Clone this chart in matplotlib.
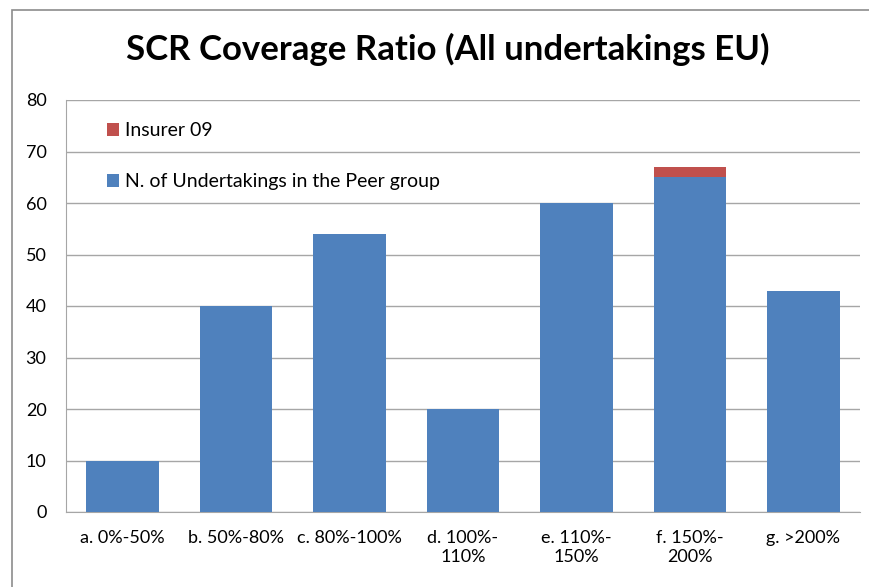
import matplotlib.pyplot as plt
from matplotlib.patches import Rectangle

categories = ['a. 0%-50%', 'b. 50%-80%', 'c. 80%-100%', 'd. 100%-\n110%',
              'e. 110%-\n150%', 'f. 150%-\n200%', 'g. >200%']
peer_group = [10, 40, 54, 20, 60, 65, 43]
insurer = [0, 0, 0, 0, 0, 2, 0]

plt.rcParams['font.family'] = ['Lato', 'DejaVu Sans']

fig = plt.figure(figsize=(8.7, 5.87), dpi=100)
ax = fig.add_axes([66 / 870, 1 - 512 / 587, (860 - 66) / 870, (512 - 100) / 587])

# outer chart frame (only left/top edges visible in the screenshot)
fig.patches.append(Rectangle((12 / 870, -0.1), 1.2, 1 - 10 / 587 + 0.1,
                             transform=fig.transFigure, fill=False,
                             edgecolor='#8c8c8c', linewidth=1.2))

x = range(len(categories))
b1 = ax.bar(x, peer_group, width=0.64, color='#4f81bd', zorder=3,
            label='N. of Undertakings in the Peer group')
b2 = ax.bar(x, insurer, width=0.64, bottom=peer_group, color='#c0504d',
            zorder=3, label='Insurer 09')

ax.set_xlim(-0.5, len(categories) - 0.5)
ax.set_ylim(0, 80)
ax.set_yticks(range(0, 81, 10))
ax.set_xticks(list(x))
ax.set_xticklabels(categories, fontsize=13, linespacing=1.25)
ax.tick_params(axis='y', labelsize=13, length=0, pad=14)
ax.tick_params(axis='x', length=0, pad=13)
ax.grid(axis='y', color='#a6a6a6', linewidth=1, zorder=0)
for side in ['top', 'right']:
    ax.spines[side].set_visible(False)
ax.spines['left'].set_color('#a6a6a6')
ax.spines['bottom'].set_color('#a6a6a6')

ax.legend(handles=[b2, b1], loc='upper left', bbox_to_anchor=(0.03, 0.988),
          frameon=False, fontsize=14, handlelength=0.6, handleheight=0.6,
          handletextpad=0.3, labelspacing=1.75)

fig.text(0.515, 0.915, 'SCR Coverage Ratio (All undertakings EU)',
         ha='center', va='center', fontsize=25, fontweight='bold')

fig.savefig('out.png', dpi=100)
